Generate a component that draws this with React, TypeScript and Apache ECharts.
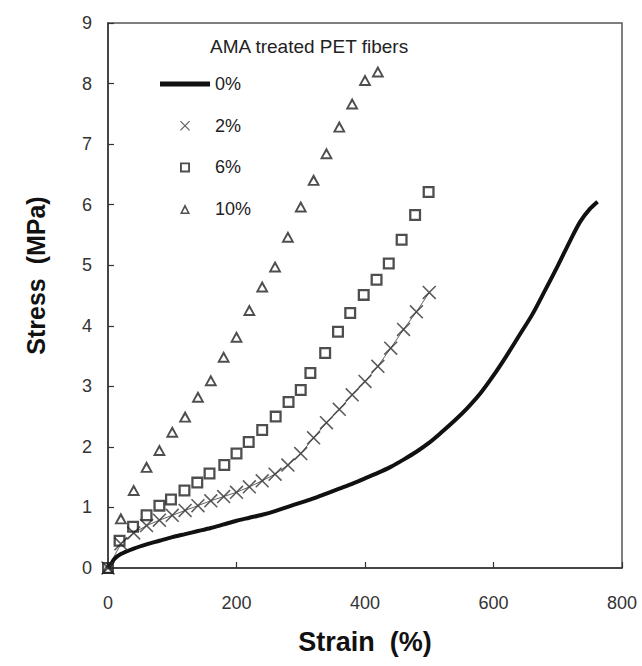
import React, { useEffect, useRef } from 'react';
import * as echarts from 'echarts';

// 0% : continuous curve
const strain0 = [0, 5, 10, 20, 40, 60, 80, 100, 120, 140, 160, 180, 200, 220, 240, 260, 280, 300, 320, 340, 360, 380, 400, 420, 440, 460, 480, 500, 520, 540, 560, 580, 600, 620, 640, 660, 680, 700, 720, 735, 750, 762];
const stress0 = [0, 0.07, 0.15, 0.23, 0.32, 0.39, 0.45, 0.51, 0.56, 0.61, 0.66, 0.72, 0.78, 0.83, 0.88, 0.94, 1.01, 1.08, 1.15, 1.23, 1.31, 1.39, 1.48, 1.57, 1.67, 1.79, 1.92, 2.07, 2.25, 2.44, 2.65, 2.89, 3.18, 3.5, 3.84, 4.18, 4.58, 4.99, 5.42, 5.72, 5.93, 6.05];

// 2% : crosses
const strain2 = [0, 20, 40, 60, 80, 100, 120, 140, 160, 180, 200, 220, 240, 260, 280, 300, 320, 340, 360, 380, 400, 420, 440, 460, 480, 500];
const stress2 = [0, 0.4, 0.58, 0.7, 0.79, 0.87, 0.95, 1.03, 1.11, 1.18, 1.25, 1.34, 1.44, 1.55, 1.7, 1.89, 2.15, 2.4, 2.62, 2.86, 3.08, 3.33, 3.63, 3.94, 4.23, 4.55];

// 6% : squares
const strain6 = [0, 18, 39, 60, 80, 98, 119, 139, 158, 181, 200, 219, 240, 261, 281, 300, 315, 338, 358, 377, 398, 418, 437, 457, 478, 499];
const stress6 = [0, 0.45, 0.68, 0.87, 1.03, 1.13, 1.28, 1.41, 1.56, 1.7, 1.89, 2.08, 2.28, 2.5, 2.74, 2.94, 3.22, 3.55, 3.9, 4.21, 4.51, 4.76, 5.03, 5.42, 5.83, 6.21];

// 10% : triangles
const strain10 = [0, 20, 40, 60, 80, 100, 120, 140, 160, 180, 200, 220, 240, 260, 280, 300, 320, 340, 360, 380, 400, 420];
const stress10 = [0, 0.82, 1.29, 1.67, 1.95, 2.25, 2.5, 2.83, 3.1, 3.49, 3.82, 4.26, 4.65, 4.98, 5.47, 5.97, 6.41, 6.85, 7.29, 7.67, 8.06, 8.2];

const xTicks = [0, 200, 400, 600, 800];
const yTicks = [0, 1, 2, 3, 4, 5, 6, 7, 8, 9];

const legendTitle = 'AMA treated PET fibers';
const seriesNames = ['0%', '2%', '6%', '10%'];

const FONT = 'Liberation Sans, Arial, sans-serif';

const barPath = 'path://M0 0 L100 0 L100 10 L0 10 Z';
const crossPath = 'path://M0 8 L8 0 L100 92 L92 100 Z M92 0 L100 8 L8 100 L0 92 Z';
const squarePath = 'path://M0 0 L100 0 L100 100 L0 100 Z M19 19 L19 81 L81 81 L81 19 Z';
const trianglePath = 'path://M50 0 L100 100 L0 100 Z M50 36 L24 84 L76 84 Z';

const zip = (xs: number[], ys: number[]) => xs.map((x, i) => [x, ys[i]]);

export default function App() {
  const ref = useRef<HTMLDivElement>(null);
  useEffect(() => {
    const chart = echarts.init(ref.current!, null, { renderer: 'svg' });
    chart.setOption({
      animation: false,
      backgroundColor: '#ffffff',
      title: {
        text: legendTitle,
        left: 210,
        top: 37,
        padding: 0,
        textStyle: { fontSize: 19, fontWeight: 'normal', color: '#222', fontFamily: FONT },
      },
      legend: {
        orient: 'vertical',
        left: 160,
        top: 75,
        padding: 0,
        itemWidth: 50,
        itemHeight: 10,
        itemGap: 23.7,
        selectedMode: false,
        symbolKeepAspect: true,
        textStyle: { fontSize: 18, lineHeight: 10, color: '#222', fontFamily: FONT },
        data: [
          { name: seriesNames[0], icon: barPath, itemStyle: { color: '#111', borderWidth: 0 } },
          { name: seriesNames[1], icon: crossPath, itemStyle: { color: '#333', borderWidth: 0 } },
          { name: seriesNames[2], icon: squarePath, itemStyle: { color: '#222', borderWidth: 0 } },
          { name: seriesNames[3], icon: trianglePath, itemStyle: { color: '#222', borderWidth: 0 } },
        ],
      },
      grid: {
        left: 108,
        right: 20,
        top: 23,
        bottom: 98,
        show: true,
        borderColor: '#555',
        borderWidth: 1.5,
        backgroundColor: 'transparent',
      },
      xAxis: {
        type: 'value',
        min: xTicks[0],
        max: xTicks[xTicks.length - 1],
        interval: 200,
        name: 'Strain  (%)',
        nameLocation: 'middle',
        nameGap: 60,
        nameTextStyle: { fontSize: 27, fontWeight: 'bold', color: '#111', fontFamily: FONT },
        axisLine: { show: true, lineStyle: { color: '#333', width: 1.5 } },
        axisTick: { show: true, inside: true, length: 6, lineStyle: { color: '#333', width: 1.2 } },
        axisLabel: { fontSize: 18, color: '#333', margin: 26, fontFamily: FONT },
        splitLine: { show: false },
      },
      yAxis: {
        type: 'value',
        min: yTicks[0],
        max: yTicks[yTicks.length - 1],
        interval: 1,
        name: 'Stress  (MPa)',
        nameLocation: 'middle',
        nameGap: 60,
        nameTextStyle: { fontSize: 25, fontWeight: 'bold', color: '#111', fontFamily: FONT, padding: [0, 0, 0, 40] },
        axisLine: { show: true, lineStyle: { color: '#333', width: 1.5 } },
        axisTick: { show: true, inside: true, length: 6, lineStyle: { color: '#333', width: 1.2 } },
        axisLabel: { fontSize: 18, color: '#333', margin: 16, fontFamily: FONT },
        splitLine: { show: false },
      },
      series: [
        {
          name: seriesNames[0],
          type: 'line',
          data: zip(strain0, stress0),
          symbol: 'none',
          smooth: 0.3,
          lineStyle: { color: '#111', width: 4 },
          itemStyle: { color: '#111' },
          z: 3,
        },
        {
          name: '2% trace',
          type: 'line',
          data: zip(strain2, stress2),
          symbol: 'none',
          silent: true,
          lineStyle: { color: '#666', width: 1 },
          z: 2,
        },
        {
          name: seriesNames[1],
          type: 'scatter',
          data: zip(strain2, stress2),
          symbol: crossPath,
          symbolSize: 14,
          itemStyle: { color: '#333' },
          z: 4,
        },
        {
          name: seriesNames[2],
          type: 'scatter',
          data: zip(strain6, stress6),
          symbol: squarePath,
          symbolSize: 12,
          itemStyle: { color: '#222' },
          z: 4,
        },
        {
          name: seriesNames[3],
          type: 'scatter',
          data: zip(strain10, stress10),
          symbol: trianglePath,
          symbolSize: [13, 12],
          itemStyle: { color: '#222' },
          z: 4,
        },
      ],
    });
    return () => chart.dispose();
  }, []);
  return (
    <div
      ref={ref}
      style={{ position: 'fixed', left: 0, top: 0, width: 642, height: 666, background: '#fff' }}
    />
  );
}
